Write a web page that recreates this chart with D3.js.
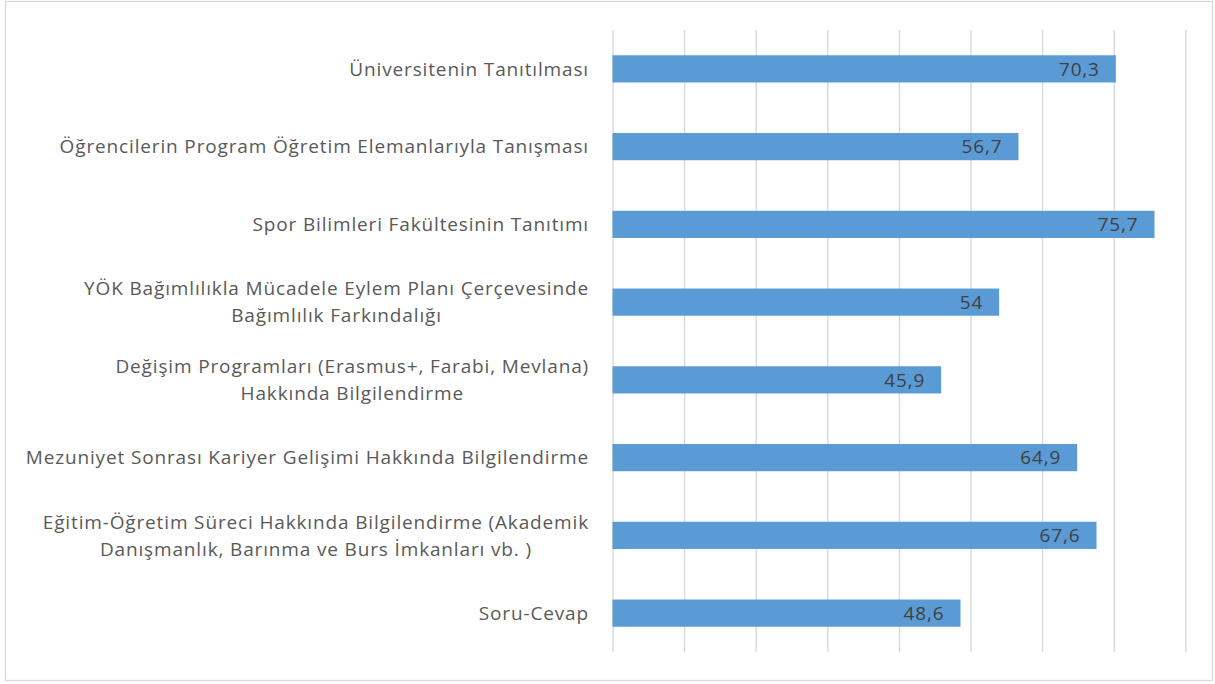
<!DOCTYPE html>
<html>
<head>
<meta charset="utf-8">
<script src="https://cdn.jsdelivr.net/npm/d3@7"></script>
<style>
  body { margin: 0; background: #fff; }
  svg { display: block; font-family: "Open Sans", sans-serif; }
  .grid line { stroke: #d9d9d9; stroke-width: 1.4; }
  .grid .domain { display: none; }
</style>
</head>
<body>
<svg id="chart" width="1215" height="684"></svg>
<script>
// categories top -> bottom, "\n" marks a line break in the label
const categories = [
  "Üniversitenin Tanıtılması",
  "Öğrencilerin Program Öğretim Elemanlarıyla Tanışması",
  "Spor Bilimleri Fakültesinin Tanıtımı",
  "YÖK Bağımlılıkla Mücadele Eylem Planı Çerçevesinde\nBağımlılık Farkındalığı",
  "Değişim Programları (Erasmus+, Farabi, Mevlana)\nHakkında Bilgilendirme",
  "Mezuniyet Sonrası Kariyer Gelişimi Hakkında Bilgilendirme",
  "Eğitim-Öğretim Süreci Hakkında Bilgilendirme (Akademik\nDanışmanlık, Barınma ve Burs İmkanları vb. )",
  "Soru-Cevap"
];
const values = [70.3, 56.7, 75.7, 54, 45.9, 64.9, 67.6, 48.6];
const xTicks = [0, 10, 20, 30, 40, 50, 60, 70, 80];

const svg = d3.select("#chart");
const plot = { left: 612.5, right: 1185.3, top: 30, bottom: 652 };
const fontSize = 19, spacing = 0.85;

// outer frame
svg.append("rect")
  .attr("x", 5.5).attr("y", 1.5)
  .attr("width", 1207).attr("height", 679)
  .attr("fill", "#fff")
  .attr("stroke", "#d9d9d9")
  .attr("stroke-width", 1.3);

const x = d3.scaleLinear()
  .domain([0, 80])
  .range([plot.left, plot.right]);

const y = d3.scaleBand()
  .domain(categories)
  .range([plot.top, plot.bottom])
  .paddingInner(0.65)
  .paddingOuter(0.325);

// vertical gridlines
svg.append("g")
  .attr("class", "grid")
  .attr("transform", `translate(0, ${plot.bottom})`)
  .call(d3.axisBottom(x).tickValues(xTicks).tickSize(-(plot.bottom - plot.top)).tickFormat(""));

// bars
svg.append("g").selectAll("rect")
  .data(values)
  .enter().append("rect")
  .attr("x", x(0))
  .attr("y", (d, i) => y(categories[i]))
  .attr("width", d => x(d) - x(0))
  .attr("height", y.bandwidth())
  .attr("fill", "#5b9bd5");

// value labels, inside end
const fmt = v => String(v).replace(".", ",");
svg.append("g").selectAll("text")
  .data(values)
  .enter().append("text")
  .attr("x", d => x(d) - 16)
  .attr("y", (d, i) => y(categories[i]) + y.bandwidth() / 2)
  .attr("dy", "0.35em")
  .attr("text-anchor", "end")
  .attr("font-size", fontSize)
  .attr("letter-spacing", spacing)
  .attr("fill", "#404040")
  .text(fmt);

// category labels: block right-aligned at the axis, lines centred within the block
const labelRight = 589;
const lineH = 27;
const labels = svg.append("g");
categories.forEach(c => {
  const lines = c.split("\n");
  const cy = y(c) + y.bandwidth() / 2;
  const t = labels.append("text")
    .attr("font-size", fontSize)
    .attr("letter-spacing", spacing)
    .attr("fill", "#595959")
    .attr("text-anchor", "middle");
  lines.forEach((ln, j) => {
    t.append("tspan")
      .attr("x", 0)
      .attr("y", cy + (j - (lines.length - 1) / 2) * lineH)
      .attr("dy", "0.35em")
      .text(ln);
  });
  let maxW = 0;
  t.selectAll("tspan").each(function () {
    maxW = Math.max(maxW, this.getComputedTextLength());
  });
  t.selectAll("tspan").attr("x", labelRight - maxW / 2);
});
</script>
</body>
</html>
